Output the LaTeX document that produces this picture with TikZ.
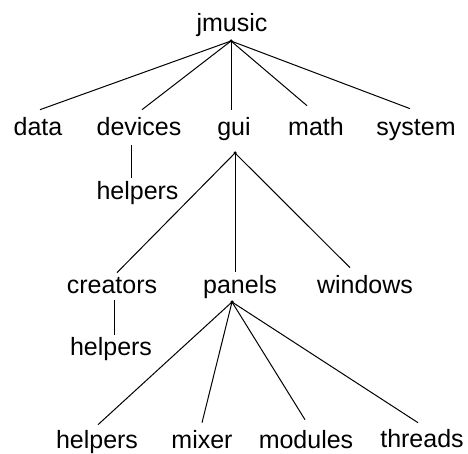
\documentclass[tikz,border=0pt]{standalone}
\usepackage{fontspec}
\setmainfont{Liberation Sans}
\begin{document}
\begin{tikzpicture}[x=1pt,y=-1pt,
  lbl/.style={anchor=base, inner sep=0pt, font=\fontsize{25}{30}\selectfont},
  edge/.style={line width=1pt},
  hub/.style={circle, fill=black, inner sep=0pt, minimum size=3.5pt}]
\useasboundingbox (0,0) rectangle (468,454);
% labels
\node[lbl] (jmusic) at (232,32) {jmusic};
\node[lbl] (data) at (38,136) {data};
\node[lbl] (devices) at (139,136) {devices};
\node[lbl] (gui) at (234,136) {gui};
\node[lbl] (math) at (316,136) {math};
\node[lbl] (system) at (416,136) {system};
\node[lbl] (helpersA) at (137.5,200) {helpers};
\node[lbl] (creators) at (112,293) {creators};
\node[lbl] (panels) at (240,293) {panels};
\node[lbl] (windows) at (365,293) {windows};
\node[lbl] (helpersB) at (111,355) {helpers};
\node[lbl] (helpersC) at (97,448) {helpers};
\node[lbl] (mixer) at (202,448) {mixer};
\node[lbl] (modules) at (306,448) {modules};
\node[lbl] (threads) at (422,447) {threads};
% hubs
\node[hub] (h0) at (231,41) {};
\node[hub] (h1) at (235,153) {};
\node[hub] (h2) at (232,302) {};
% edges from jmusic
\draw[edge] (h0.center) -- ([xshift=2pt,yshift=8pt]data.north);
\draw[edge] (h0.center) -- ([xshift=3pt,yshift=8pt]devices.north);
\draw[edge] (h0.center) -- ([xshift=-3pt,yshift=8pt]gui.north);
\draw[edge] (h0.center) -- ([xshift=-9pt,yshift=12pt]math.north);
\draw[edge] (h0.center) -- ([xshift=-6pt,yshift=11pt]system.north);
% devices -> helpers
\draw[edge] ([xshift=-7.3pt,yshift=-9pt]devices.south) -- ([xshift=-5.8pt,yshift=4pt]helpersA.north);
% edges from gui
\draw[edge] (h1.center) -- ([xshift=5pt,yshift=4pt]creators.north);
\draw[edge] (h1.center) -- ([xshift=-5pt,yshift=3pt]panels.north);
\draw[edge] (h1.center) -- ([xshift=-15pt,yshift=7pt]windows.north);
% creators -> helpers
\draw[edge] ([xshift=2pt,yshift=-7pt]creators.south) -- ([xshift=3pt,yshift=2pt]helpersB.north);
% edges from panels
\draw[edge] (h2.center) -- ([xshift=1pt,yshift=5pt]helpersC.north);
\draw[edge] (h2.center) -- ([xshift=0pt,yshift=7pt]mixer.north);
\draw[edge] (h2.center) -- ([xshift=-1pt,yshift=10pt]modules.north);
\draw[edge] (h2.center) -- ([xshift=-4pt,yshift=6pt]threads.north);
\end{tikzpicture}
\end{document}
